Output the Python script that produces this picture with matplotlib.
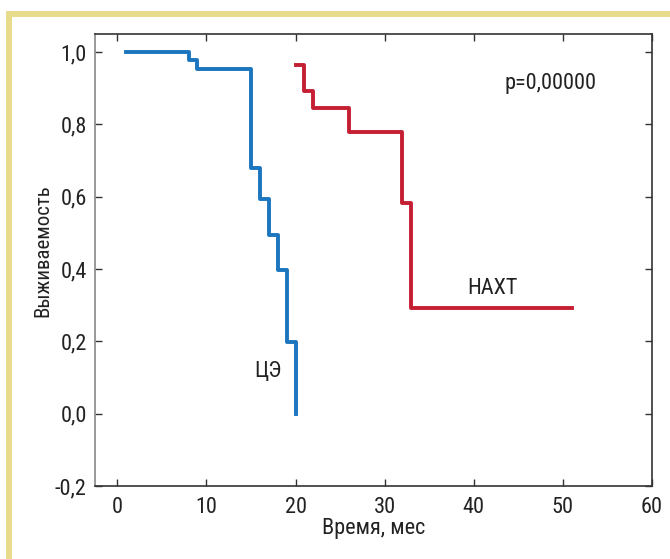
import matplotlib
matplotlib.use('Agg')
import matplotlib.pyplot as plt
from matplotlib.patches import Rectangle
from matplotlib.ticker import FuncFormatter

# ЦЭ (blue)
ce_t = [1, 8, 9, 15, 16, 17, 18, 19, 20]
ce_s = [1.0, 0.977, 0.954, 0.68, 0.594, 0.495, 0.396, 0.197, 0.0]

# НАХТ (red)
naxt_t = [20, 21, 22, 26, 32, 33, 51]
naxt_s = [0.964, 0.893, 0.845, 0.779, 0.584, 0.292, 0.292]

x_ticks = [0, 10, 20, 30, 40, 50, 60]
y_ticks = [-0.2, 0.0, 0.2, 0.4, 0.6, 0.8, 1.0]

plt.rcParams['font.family'] = ['Roboto Condensed', 'DejaVu Sans Condensed', 'Roboto']

fig = plt.figure(figsize=(6.7, 5.59), dpi=100)
ax = fig.add_axes([95/670, 73/559, (652-95)/670, (486-34)/559])

# жёлтая рамка
fig.add_artist(Rectangle((6/670, 0), 6/670, 1 - 11/559, transform=fig.transFigure,
                         color='#e8dc8c', lw=0))
fig.add_artist(Rectangle((6/670, 1 - 16.5/559), 1, 5.5/559, transform=fig.transFigure,
                         color='#e8dc8c', lw=0))

ax.step(ce_t, ce_s, where='post', color='#1b75bf', lw=2.8)
ax.step(naxt_t, naxt_s, where='post', color='#c51f33', lw=2.8)

ax.text(43.5, 0.913, 'p=0,00000', fontsize=16, va='center', color='#222')
ax.text(42.1, 0.346, 'НАХТ', fontsize=16, va='center', ha='center', color='#222')
ax.text(16.9, 0.116, 'ЦЭ', fontsize=16, va='center', ha='center', color='#222')

ax.set_xlim(-2.5, 60)
ax.set_ylim(-0.2, 1.05)
ax.set_xticks(x_ticks)
ax.set_yticks(y_ticks)
ax.yaxis.set_major_formatter(FuncFormatter(lambda v, p: ('%.1f' % v).replace('.', ',').replace('-0,0', '0,0')))
ax.tick_params(direction='in', top=True, right=True, length=5, width=1, colors='#333',
               labelsize=16, labelcolor='#222')
ax.tick_params(axis='x', pad=8)
ax.tick_params(axis='y', pad=6)
for s in ax.spines.values():
    s.set_color('#333')
    s.set_linewidth(1.2)
ax.spines['left'].set_color('#888')

ax.set_xlabel('Время, мес', fontsize=16, color='#222', labelpad=0)
ax.set_ylabel('Выживаемость', fontsize=15, color='#222')
ax.yaxis.set_label_coords(-0.077, 0.52)

fig.savefig('out.png', dpi=100)
